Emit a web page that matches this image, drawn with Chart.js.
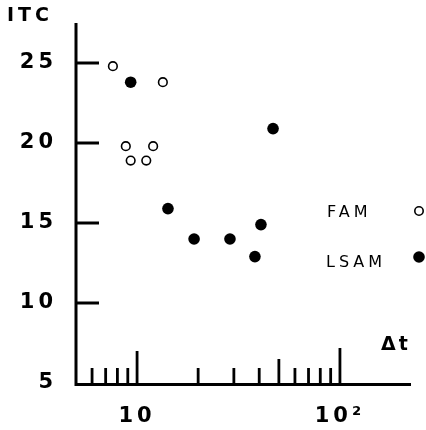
<!DOCTYPE html>
<html>
<head>
<meta charset="utf-8">
<script src="https://cdn.jsdelivr.net/npm/chart.js@4/dist/chart.umd.min.js"></script>
<style>
  html, body { margin: 0; padding: 0; background: #fff; }
  #wrap { width: 426px; height: 430px; }
</style>
</head>
<body>
<div id="wrap"><canvas id="chart" width="426" height="430"></canvas></div>
<script>
// values (delta t on a log axis, ITC linear)
const famX = [7.6, 13.4, 8.8, 12.0, 9.3, 11.1];
const famY = [24.8, 23.8, 19.8, 19.8, 18.9, 18.9];
const lsamX = [9.3, 14.2, 19.1, 28.7, 38.1, 40.8, 46.8];
const lsamY = [23.8, 15.9, 14.0, 14.0, 12.9, 14.9, 20.9];

const yTicks = [5, 10, 15, 20, 25];
const xTicks = [6, 7, 8, 9, 10, 20, 30, 40, 50, 60, 70, 80, 90, 100];
const xTickLabels = { 10: "10", 100: "10\u00b2" };
const seriesNames = ["FAM", "LSAM"];

const FONT = "'DejaVu Sans', sans-serif";

function toPoints(xs, ys) {
  return xs.map((x, i) => ({ x: x, y: ys[i] }));
}

// axes, tick marks, legend and axis titles drawn by hand
const framePlugin = {
  id: "frame",
  beforeDraw: (chart) => {
    chart.ctx.letterSpacing = "4px";
  },
  beforeDatasetsDraw: (chart) => {
    const { ctx, chartArea, scales } = chart;
    const x = scales.x, y = scales.y;
    ctx.save();
    ctx.letterSpacing = "0px";
    ctx.strokeStyle = "#000";
    ctx.lineCap = "butt";
    // axis lines
    ctx.lineWidth = 3;
    ctx.beginPath();
    ctx.moveTo(chartArea.left, chartArea.top);
    ctx.lineTo(chartArea.left, chartArea.bottom + 1.5);
    ctx.lineTo(chartArea.right, chartArea.bottom + 1.5);
    ctx.stroke();
    // y ticks pointing inside
    yTicks.forEach((v) => {
      if (v === 5) return;
      const py = y.getPixelForValue(v);
      ctx.beginPath();
      ctx.moveTo(chartArea.left, py);
      ctx.lineTo(chartArea.left + 23, py);
      ctx.stroke();
    });
    // x ticks pointing up, long at decades, medium at 50
    ctx.lineWidth = 2.8;
    xTicks.forEach((v) => {
      const px = x.getPixelForValue(v);
      let len = 15;
      if (v === 10) len = 32;
      if (v === 100) len = 35;
      if (v === 50) len = 24;
      ctx.beginPath();
      ctx.moveTo(px, chartArea.bottom);
      ctx.lineTo(px, chartArea.bottom - len);
      ctx.stroke();
    });
    ctx.restore();
  },
  afterDraw: (chart) => {
    const ctx = chart.ctx;
    ctx.save();
    ctx.fillStyle = "#000";
    ctx.textAlign = "left";
    ctx.textBaseline = "alphabetic";
    ctx.letterSpacing = "4px";
    ctx.font = "bold 19px " + FONT;
    ctx.fillText("ITC", 7, 21);
    ctx.letterSpacing = "3px";
    ctx.fillText("\u0394t", 381, 350);

    // legend
    ctx.font = "16px " + FONT;
    ctx.letterSpacing = "4px";
    ctx.fillText(seriesNames[0], 327, 217);
    ctx.fillText(seriesNames[1], 326, 267);
    ctx.letterSpacing = "0px";
    ctx.lineWidth = 1.6;
    ctx.strokeStyle = "#000";
    ctx.beginPath();
    ctx.arc(419, 211, 4.2, 0, Math.PI * 2);
    ctx.fillStyle = "#fff";
    ctx.fill();
    ctx.stroke();
    ctx.fillStyle = "#000";
    ctx.beginPath();
    ctx.arc(419, 257, 5.8, 0, Math.PI * 2);
    ctx.fill();
    ctx.restore();
    ctx.letterSpacing = "0px";
  }
};

new Chart(document.getElementById("chart"), {
  type: "scatter",
  data: {
    datasets: [
      {
        label: seriesNames[0],
        data: toPoints(famX, famY),
        pointRadius: 4.3,
        pointBorderWidth: 1.6,
        pointBackgroundColor: "#fff",
        pointBorderColor: "#000",
      },
      {
        label: seriesNames[1],
        data: toPoints(lsamX, lsamY),
        pointRadius: 5.8,
        pointBorderWidth: 0,
        pointBackgroundColor: "#000",
        pointBorderColor: "#000",
      },
    ],
  },
  options: {
    responsive: false,
    animation: false,
    layout: { padding: { top: 23, right: 15, left: 0, bottom: 0 } },
    plugins: {
      legend: { display: false },
      tooltip: { enabled: false },
    },
    scales: {
      x: {
        type: "logarithmic",
        min: 5,
        max: 224,
        border: { display: false },
        grid: { display: false, drawTicks: false },
        afterBuildTicks: (scale) => {
          scale.ticks = xTicks.map((v) => ({ value: v }));
        },
        afterFit: (scale) => {
          scale.height = 47;
          scale.paddingLeft = 0;
          scale.paddingRight = 0;
        },
        ticks: {
          autoSkip: false,
          maxRotation: 0,
          padding: 21,
          color: "#000",
          font: { family: FONT, size: 21, weight: "bold" },
          callback: (value) => xTickLabels[value] || "",
        },
      },
      y: {
        min: 5,
        max: 27.5,
        border: { display: false },
        grid: { display: false, drawTicks: false },
        afterBuildTicks: (scale) => {
          scale.ticks = yTicks.map((v) => ({ value: v }));
        },
        afterFit: (scale) => {
          scale.width = 76;
          scale.paddingTop = 0;
          scale.paddingBottom = 0;
        },
        ticks: {
          padding: 19,
          color: "#000",
          font: { family: FONT, size: 21, weight: "bold" },
        },
      },
    },
  },
  plugins: [framePlugin],
});
</script>
</body>
</html>
